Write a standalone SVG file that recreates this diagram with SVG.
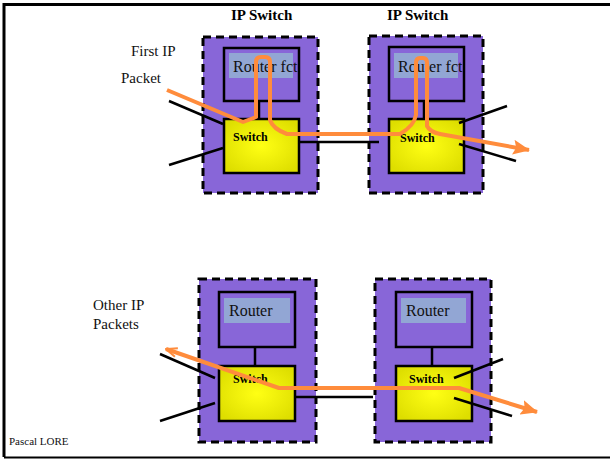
<svg xmlns="http://www.w3.org/2000/svg" width="610" height="461" viewBox="0 0 610 461">
<defs>
<radialGradient id="yg" cx="0.5" cy="0.5" r="0.6">
<stop offset="0" stop-color="#FFFF14"/>
<stop offset="1" stop-color="#DEDE00"/>
</radialGradient>
<marker id="ah" markerWidth="17" markerHeight="15" refX="16" refY="7.5" orient="auto" markerUnits="userSpaceOnUse">
<path d="M0,0 L17,7.5 L0,15 L3,7.5 Z" fill="#FF8C3C"/>
</marker>
<marker id="ah2" markerWidth="13" markerHeight="11" refX="1" refY="5.5" orient="auto" markerUnits="userSpaceOnUse">
<path d="M12,1 L1,5.5 L12,10" fill="none" stroke="#FF8C3C" stroke-width="2"/>
</marker>
</defs>
<style>
.frame{stroke:#000;stroke-width:3;fill:none}
.outer{fill:#8866D8;stroke:#000;stroke-width:3;stroke-dasharray:8 5}
.router{fill:#8866D8;stroke:#000;stroke-width:2.5}
.hl{fill:#92A6D4}
.sw{fill:url(#yg);stroke:#000;stroke-width:2.5}
.ln{stroke:#000;stroke-width:2.5;fill:none}
.pkt{stroke:#FF8C3C;stroke-width:4;fill:none;stroke-linejoin:round}
.t{font-family:'Liberation Serif','DejaVu Serif','Times New Roman',serif;fill:#111}
.tb{font-family:'Liberation Serif','DejaVu Serif','Times New Roman',serif;font-weight:bold;fill:#000}
</style>
<rect width="610" height="461" fill="#fff"/>
<g id="frame">
<path class="frame" d="M4,457 L4,4.5 L610,4.5"/>
<line x1="4" y1="457.5" x2="610" y2="457.5" stroke="#000" stroke-width="2"/>
</g>
<g id="labels">
<text class="tb" x="231" y="20" font-size="15">IP Switch</text>
<text class="tb" x="387" y="20" font-size="15">IP Switch</text>
<text class="t" x="131" y="56" font-size="15">First IP</text>
<text class="t" x="121" y="83" font-size="15">Packet</text>
<text class="t" x="93" y="310" font-size="15">Other IP</text>
<text class="t" x="93" y="329" font-size="15">Packets</text>
<text class="t" x="9" y="445" font-size="11">Pascal LORE</text>
</g>
<g id="ipswitch1">
<rect class="outer" x="203" y="37" width="115" height="156"/>
<rect class="router" x="224" y="48" width="75" height="53"/>
<rect class="hl" x="229" y="53" width="64" height="25"/>
<text class="t" x="233" y="72" font-size="16">Router fct</text>
<line class="ln" x1="259" y1="101" x2="259" y2="119"/>
<rect class="sw" x="224" y="119" width="75" height="54"/>
<text class="tb" x="233" y="141" font-size="12">Switch</text>
</g>
<g id="ipswitch2">
<rect class="outer" x="369" y="36" width="114" height="157"/>
<rect class="router" x="389" y="47" width="75" height="54"/>
<rect class="hl" x="394" y="53" width="64" height="25"/>
<text class="t" x="398" y="72" font-size="16">Router fct</text>
<line class="ln" x1="424" y1="101" x2="424" y2="119"/>
<rect class="sw" x="389" y="119" width="75" height="54"/>
<text class="tb" x="400" y="142" font-size="12">Switch</text>
</g>
<g id="ipswitch3">
<rect class="outer" x="199" y="279" width="117" height="163"/>
<rect class="router" x="219" y="292" width="76" height="55"/>
<rect class="hl" x="224" y="298" width="66" height="25"/>
<text class="t" x="229" y="316" font-size="16">Router</text>
<line class="ln" x1="255" y1="347" x2="255" y2="366"/>
<rect class="sw" x="219" y="366" width="76" height="55"/>
<text class="tb" x="233" y="383" font-size="12">Switch</text>
</g>
<g id="ipswitch4">
<rect class="outer" x="375" y="279" width="116" height="163"/>
<rect class="router" x="396" y="292" width="76" height="55"/>
<rect class="hl" x="401" y="298" width="65" height="25"/>
<text class="t" x="406" y="316" font-size="16">Router</text>
<line class="ln" x1="432" y1="347" x2="432" y2="366"/>
<rect class="sw" x="396" y="366" width="76" height="55"/>
<text class="tb" x="409" y="383" font-size="12">Switch</text>
</g>
<g id="connectors">
<line class="ln" x1="169" y1="101" x2="223" y2="124"/>
<line class="ln" x1="169" y1="165" x2="223" y2="148"/>
<line class="ln" x1="300" y1="142" x2="379" y2="142"/>
<line class="ln" x1="459" y1="123" x2="507" y2="106"/>
<line class="ln" x1="459" y1="144" x2="516" y2="161"/>
<line class="ln" x1="160" y1="354" x2="215" y2="378"/>
<line class="ln" x1="160" y1="421" x2="215" y2="403"/>
<line class="ln" x1="295" y1="397" x2="373" y2="397"/>
<line class="ln" x1="454" y1="378" x2="503" y2="359"/>
<line class="ln" x1="454" y1="398" x2="512" y2="416"/>
<path class="pkt" marker-end="url(#ah)" d="M167,90 L243,122 L256,117 L256,62 Q256,57 261,57 L265,57 Q270,57 270,62 L270,120 Q273,129 287,134 L400,134 Q414,126 416,115 L416,63 Q416,58 420,58 L423,58 Q427,58 427,63 L427,126 Q430,132 440,134 L529,150"/>
<path class="pkt" marker-start="url(#ah2)" marker-end="url(#ah)" d="M166,349 L279,388 L459,388 L537,412"/>
</g>
</svg>
